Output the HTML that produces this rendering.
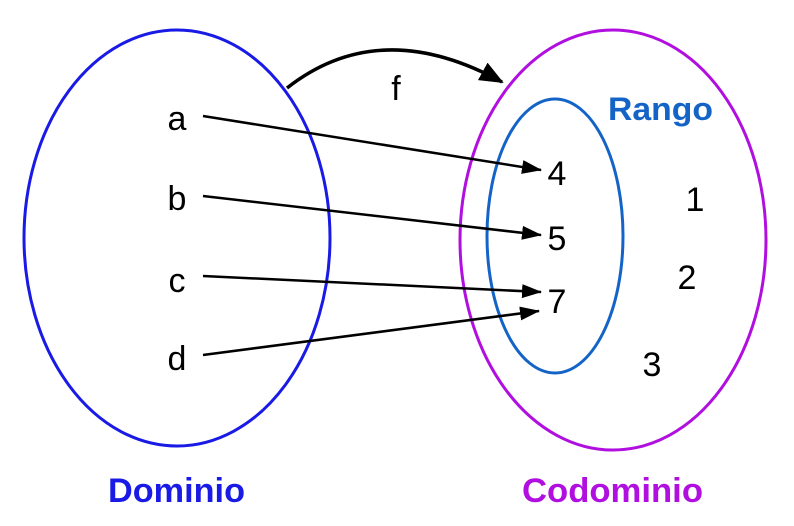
<!DOCTYPE html>
<html><head><meta charset="utf-8"><style>
html,body{margin:0;padding:0;background:#fff;}
svg{display:block;}
text{font-family:"Liberation Sans",sans-serif;}
</style></head><body>
<svg width="794" height="526" viewBox="0 0 794 526" xmlns="http://www.w3.org/2000/svg">
<defs>
<marker id="ah" markerWidth="20" markerHeight="14" refX="19" refY="7" orient="auto" markerUnits="userSpaceOnUse" viewBox="0 0 20 14">
<path d="M0,0 L20,7 L0,14 z" fill="#000"/></marker>
<marker id="ah2" markerWidth="24" markerHeight="20" refX="22" refY="10" orient="auto" markerUnits="userSpaceOnUse" viewBox="0 0 24 20">
<path d="M0,0 L24,10 L0,20 z" fill="#000"/></marker>
</defs>
<ellipse cx="177" cy="238" rx="153" ry="208" fill="none" stroke="#1a1ae6" stroke-width="3"/>
<ellipse cx="613" cy="240" rx="153" ry="210" fill="none" stroke="#b10fe0" stroke-width="3"/>
<ellipse cx="555" cy="236" rx="68" ry="137" fill="none" stroke="#1464c8" stroke-width="3"/>
<path d="M287,88 Q380,15 502,82" fill="none" stroke="#000" stroke-width="3.5" marker-end="url(#ah2)"/>
<g stroke="#000" stroke-width="2.5" fill="none">
<line x1="203" y1="116" x2="541" y2="170" marker-end="url(#ah)"/>
<line x1="203" y1="196" x2="541" y2="235" marker-end="url(#ah)"/>
<line x1="203" y1="276" x2="541" y2="292" marker-end="url(#ah)"/>
<line x1="203" y1="355" x2="539" y2="311" marker-end="url(#ah)"/>
</g>
<g font-size="34" fill="#000" text-anchor="middle">
<text x="177" y="130">a</text>
<text x="177" y="210">b</text>
<text x="177" y="292">c</text>
<text x="177" y="370">d</text>
<text x="557" y="185">4</text>
<text x="557" y="250">5</text>
<text x="557" y="313">7</text>
<text x="695" y="211">1</text>
<text x="687" y="289">2</text>
<text x="652" y="376">3</text>
<text x="396" y="100">f</text>
</g>
<text x="608" y="120" font-size="32" font-weight="bold" fill="#1464c8" textLength="105" lengthAdjust="spacingAndGlyphs">Rango</text>
<text x="108" y="502" font-size="34" font-weight="bold" fill="#1a1ae6" textLength="137" lengthAdjust="spacingAndGlyphs">Dominio</text>
<text x="522" y="502" font-size="34" font-weight="bold" fill="#b10fe0" textLength="181" lengthAdjust="spacingAndGlyphs">Codominio</text>
</svg>
</body></html>
